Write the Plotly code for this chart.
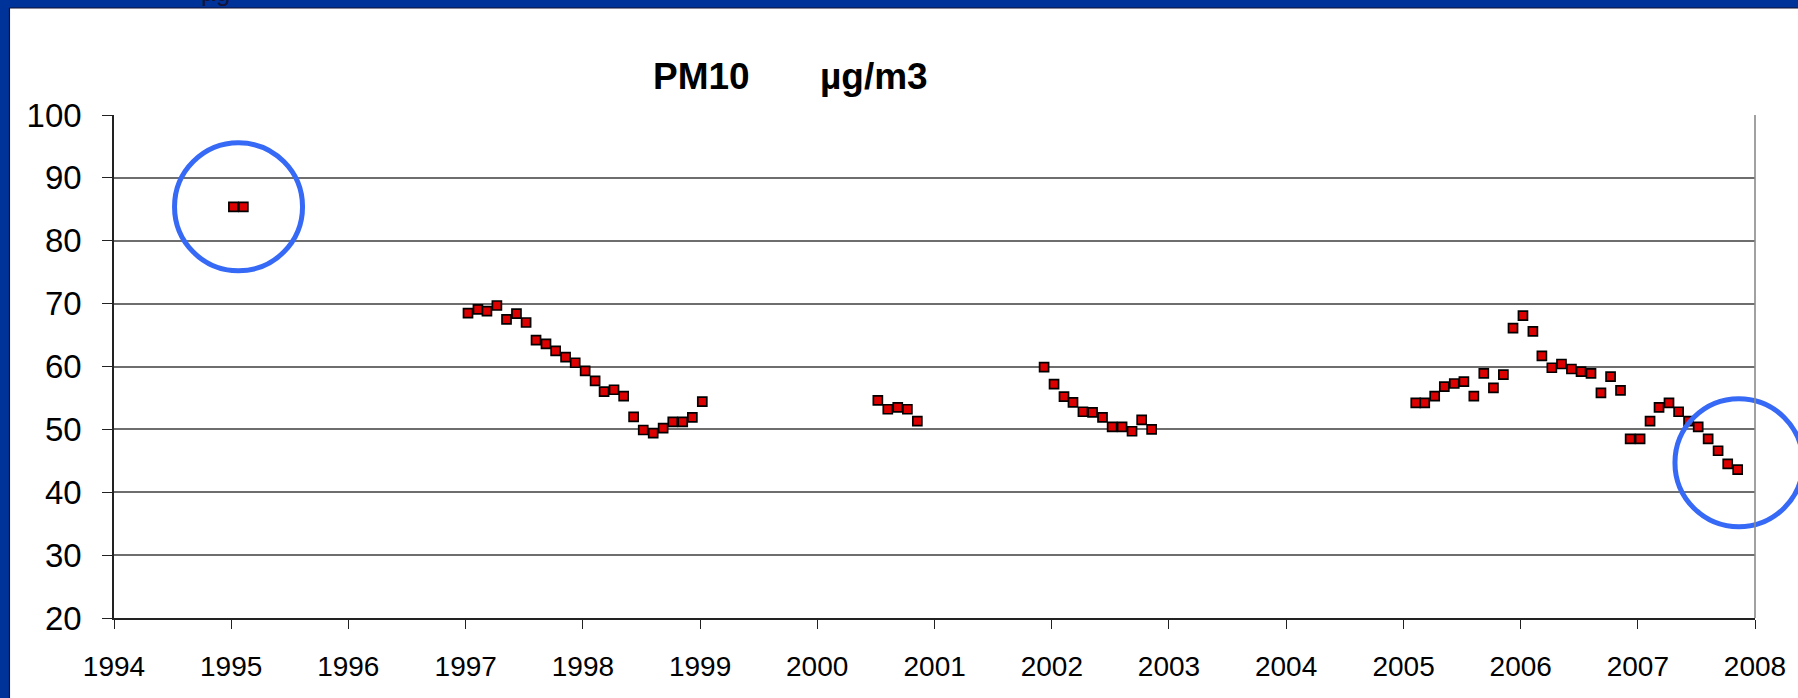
import plotly.graph_objects as go

# ---------------- data (monthly PM10 means, µg/m3) ----------------
dates_1995 = ["1995-01-08", "1995-02-08"]
pm10_1995 = [85.4, 85.4]

dates_1997 = ["1997-01-08", "1997-02-08", "1997-03-08", "1997-04-08", "1997-05-08", "1997-06-08",
              "1997-07-08", "1997-08-08", "1997-09-08", "1997-10-08", "1997-11-08", "1997-12-08",
              "1998-01-08", "1998-02-08", "1998-03-08", "1998-04-08", "1998-05-08", "1998-06-08",
              "1998-07-08", "1998-08-08", "1998-09-08", "1998-10-08", "1998-11-08", "1998-12-08",
              "1999-01-08"]
pm10_1997 = [68.5, 69.1, 68.8, 69.7, 67.5, 68.4, 67.0, 64.2, 63.6, 62.5, 61.5, 60.6,
             59.3, 57.7, 56.0, 56.3, 55.3, 52.0, 49.9, 49.4, 50.2, 51.2, 51.2, 51.9,
             54.4]

dates_2000 = ["2000-07-08", "2000-08-08", "2000-09-08", "2000-10-08", "2000-11-08"]
pm10_2000 = [54.6, 53.2, 53.5, 53.2, 51.3]

dates_2002 = ["2001-12-08", "2002-01-08", "2002-02-08", "2002-03-08", "2002-04-08", "2002-05-08",
              "2002-06-08", "2002-07-08", "2002-08-08", "2002-09-08", "2002-10-08", "2002-11-08"]
pm10_2002 = [59.9, 57.2, 55.2, 54.3, 52.8, 52.7, 51.9, 50.4, 50.4, 49.7, 51.5, 50.0]

dates_2005 = ["2005-02-08", "2005-03-08", "2005-04-08", "2005-05-08", "2005-06-08", "2005-07-08",
              "2005-08-08", "2005-09-08", "2005-10-08", "2005-11-08", "2005-12-08",
              "2006-01-08", "2006-02-08", "2006-03-08", "2006-04-08", "2006-05-08", "2006-06-08",
              "2006-07-08", "2006-08-08", "2006-09-08", "2006-10-08", "2006-11-08", "2006-12-08",
              "2007-01-08", "2007-02-08", "2007-03-08", "2007-04-08", "2007-05-08", "2007-06-08",
              "2007-07-08", "2007-08-08", "2007-09-08", "2007-10-08", "2007-11-08"]
pm10_2005 = [54.2, 54.2, 55.3, 56.8, 57.3, 57.6, 55.3, 58.9, 56.6, 58.7, 66.1,
             68.1, 65.6, 61.7, 59.8, 60.4, 59.6, 59.2, 58.9, 55.8, 58.4, 56.2, 48.5,
             48.5, 51.3, 53.5, 54.2, 52.8, 51.3, 50.4, 48.5, 46.6, 44.5, 43.6]

# highlighted spots (blue circles)
highlight_dates = ["1995-01-24", "2007-11-12"]
highlight_values = [85.4, 44.7]

x_ticks = ["1994", "1995", "1996", "1997", "1998", "1999", "2000", "2001",
           "2002", "2003", "2004", "2005", "2006", "2007", "2008"]
y_ticks = [20, 30, 40, 50, 60, 70, 80, 90, 100]

title_left = "PM10"
title_right = "µg/m3"

# ---------------- layout geometry ----------------
W, H = 1798, 698
L, R, T, B = 114, 36, 115, 80
PW, PH = W - L - R, H - T - B


def fx(px):
    return (px - L) / PW


def fy(py):
    return (H - B - py) / PH


FONT = "Liberation Sans, Arial, sans-serif"
BLUE = "#003399"

all_dates = dates_1995 + dates_1997 + dates_2000 + dates_2002 + dates_2005
all_vals = pm10_1995 + pm10_1997 + pm10_2000 + pm10_2002 + pm10_2005

fig = go.Figure()
fig.add_trace(go.Scatter(
    x=all_dates, y=all_vals, mode="markers",
    marker=dict(symbol="square", size=9, color="#dd0000",
                line=dict(color="#000000", width=1.7)),
    showlegend=False, hoverinfo="x+y",
))
fig.add_trace(go.Scatter(
    x=highlight_dates, y=highlight_values, mode="markers",
    marker=dict(symbol="circle-open", size=128, color="#3669f5",
                line=dict(width=5)),
    cliponaxis=False, showlegend=False, hoverinfo="skip",
))

shapes = [
    # blue slide frame: top band and left band
    dict(type="rect", xref="paper", yref="paper", layer="below",
         x0=fx(-20), x1=fx(W + 20), y0=fy(8), y1=fy(-20),
         fillcolor=BLUE, line=dict(width=0)),
    dict(type="rect", xref="paper", yref="paper", layer="below",
         x0=fx(-20), x1=fx(9), y0=fy(H + 20), y1=fy(-20),
         fillcolor=BLUE, line=dict(width=0)),
    # thin dark edge along the white slide area
    dict(type="line", xref="paper", yref="paper", layer="below",
         x0=fx(9), x1=fx(W + 20), y0=fy(8), y1=fy(8),
         line=dict(color="#101030", width=1.2)),
    dict(type="line", xref="paper", yref="paper", layer="below",
         x0=fx(9), x1=fx(9), y0=fy(H + 20), y1=fy(8),
         line=dict(color="#101030", width=1.2)),
    # grey right border of plot area
    dict(type="line", xref="paper", yref="paper", x0=1, x1=1, y0=0, y1=1,
         line=dict(color="#8a8a8a", width=1.6)),
]

annotations = [
    dict(text="<b>%s</b>" % title_left, xref="paper", yref="paper",
         x=fx(704), y=fy(77), xanchor="center", yanchor="middle", showarrow=False,
         font=dict(family=FONT, size=37, color="black")),
    dict(text="<b>%s</b>" % title_right, xref="paper", yref="paper",
         x=fx(877), y=fy(77), xanchor="center", yanchor="middle", showarrow=False,
         font=dict(family=FONT, size=37, color="black")),
    # clipped slide-title fragment at the very top
    dict(text="µg", xref="paper", yref="paper",
         x=fx(216), y=fy(-8), xanchor="center", yanchor="middle", showarrow=False,
         font=dict(family=FONT, size=26, color="#14143a")),
]

fig.update_layout(
    width=W, height=H,
    margin=dict(l=L, r=R, t=T, b=B, pad=0),
    paper_bgcolor="white",
    plot_bgcolor="white",
    shapes=shapes,
    annotations=annotations,
    showlegend=False,
    xaxis=dict(
        type="date",
        range=["1994-01-01", "2008-01-01"],
        tickmode="array",
        tickvals=[t + "-01-01" for t in x_ticks],
        ticktext=x_ticks,
        showgrid=False, zeroline=False,
        showline=True, linecolor="#222222", linewidth=1.6,
        ticks="outside", ticklen=9, tickwidth=1.2, tickcolor="#222222",
        tickfont=dict(family=FONT, size=28, color="black"),
        ticklabelstandoff=14,
    ),
    yaxis=dict(
        range=[20, 100],
        tickmode="array", tickvals=y_ticks, ticktext=[str(v) for v in y_ticks],
        showgrid=True, gridcolor="#6e6e6e", gridwidth=1.5,
        zeroline=False,
        showline=True, linecolor="#222222", linewidth=1.6,
        ticks="outside", ticklen=10, tickwidth=1.2, tickcolor="#222222",
        tickfont=dict(family=FONT, size=33, color="black"),
        ticklabelstandoff=14,
    ),
)

fig.write_html("out.html")
